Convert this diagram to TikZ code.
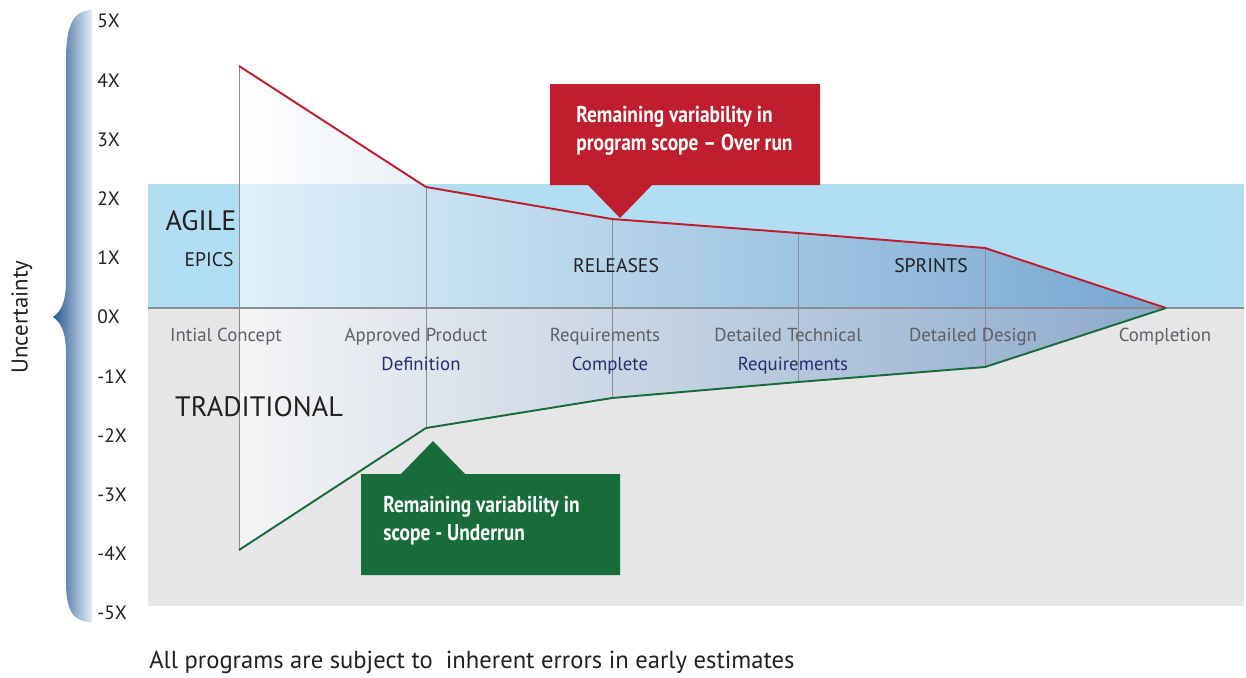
\documentclass[tikz,border=0pt]{standalone}
\usepackage{fontspec}
\setmainfont{PT Sans}
\usetikzlibrary{positioning}
\definecolor{agileblue}{RGB}{177,222,243}
\definecolor{tradgray}{RGB}{230,230,232}
\definecolor{conegray}{RGB}{140,140,145}
\definecolor{overred}{RGB}{190,30,45}
\definecolor{undergreen}{RGB}{24,108,58}
\definecolor{stagegray}{RGB}{95,95,100}
\definecolor{stagenavy}{RGB}{40,45,110}
\definecolor{conesteel}{RGB}{80,130,185}
\definecolor{darktext}{RGB}{35,31,32}
\definecolor{bracedark}{RGB}{35,85,145}
\definecolor{bracelight}{RGB}{228,237,248}

\tikzset{
  axislabel/.style={anchor=west, inner sep=0pt, font=\fontsize{11}{13}\selectfont, text=darktext},
  stage/.style={anchor=base, font=\fontsize{10.7}{12}\selectfont, text=stagegray},
  substage/.style={anchor=base, font=\fontsize{10.7}{12}\selectfont, text=stagenavy},
  phase/.style={anchor=base, font=\fontsize{11.2}{13}\selectfont, text=darktext},
  method/.style={anchor=base, font=\fontsize{16}{19}\selectfont, text=darktext},
  callouttext/.style={font=\bfseries\fontsize{13}{16}\selectfont, text=white, align=left, anchor=west, inner sep=0pt},
  conepart/.style={draw=conegray, line width=0.5pt}
}

\begin{document}
\begin{tikzpicture}[x=0.02cm, y=-0.02cm]
  \useasboundingbox (0,0) rectangle (1246,677);

  % bands
  \fill[agileblue] (148,184) rectangle (1244,308);
  \fill[tradgray] (148,308) rectangle (1244,606);

  % cone corners
  \foreach \i/\x/\yt/\yb in {0/239/66/550, 1/426/187/428, 2/612/219/398, 3/798/233/382, 4/985/248/367}
  {
    \coordinate (t\i) at (\x,\yt);
    \coordinate (b\i) at (\x,\yb);
  }
  \coordinate (tip) at (1166,308);

  \shade[left color=white, right color=conesteel, fill opacity=0.6]
    (t0) -- (t1) -- (t2) -- (t3) -- (t4) -- (tip) -- (b4) -- (b3) -- (b2) -- (b1) -- (b0) -- cycle;
  \foreach \i in {0,...,4}
  {
    \draw[conepart] (t\i) -- (b\i);
  }
  \draw[conegray, line width=1.1pt] (148,308) -- (1244,308);
  \draw[overred, line width=1.1pt] (t0) -- (t1) -- (t2) -- (t3) -- (t4) -- (tip);
  \draw[undergreen, line width=1.1pt] (b0) -- (b1) -- (b2) -- (b3) -- (b4) -- (tip);

  % brace and axis
  \shade[left color=bracedark, right color=bracelight]
    (92,10) .. controls (74,10) and (66,24) .. (66,60) -- (66,280)
    .. controls (66,304) and (60,312) .. (53,317)
    .. controls (60,322) and (66,330) .. (66,354) -- (66,582)
    .. controls (66,612) and (74,622) .. (92,622) -- cycle;
  \foreach \v in {5,...,-5}
  {
    \node[axislabel] (ax\v) at (97,317-59.2*\v) {\v X};
  }
  \node[rotate=90, font=\fontsize{13}{15}\selectfont, text=darktext] (uncert) at (22,317) {Uncertainty};

  % callouts
  \fill[overred] (550,84) -- (820,84) -- (820,185) -- (652,185) -- (620,218) -- (588,185) -- (550,185) -- cycle;
  \node[callouttext] (overtext) at (576,131) {\scalebox{.85}[1]{Remaining variability in}\\\scalebox{.85}[1]{program scope -- Over run}};
  \fill[undergreen] (361,474) -- (401,474) -- (433,441) -- (465,474) -- (620,474) -- (620,575) -- (361,575) -- cycle;
  \node[callouttext] (undertext) at (383,521) {\scalebox{.85}[1]{Remaining variability in}\\\scalebox{.85}[1]{scope - Underrun}};

  % labels
  \node[method] (agile) at (201,230) {AGILE};
  \node[phase] (epics) at (209,266) {EPICS};
  \node[phase] (releases) at (616,272) {RELEASES};
  \node[phase] (sprints) at (931,272) {SPRINTS};
  \node[method] (trad) at (259,416) {TRADITIONAL};

  \node[stage] (concept) at (226,341) {Intial Concept};
  \node[stage] (approved) at (416,341) {Approved Product};
  \node[substage] (definition) at (421,370) {Definition};
  \node[stage] (reqs) at (605,341) {Requirements};
  \node[substage] (complete) at (610,370) {Complete};
  \node[stage] (technical) at (788,341) {Detailed Technical};
  \node[substage] (techreqs) at (793,370) {Requirements};
  \node[stage] (design) at (973,341) {Detailed Design};
  \node[stage] (completion) at (1165,341) {Completion};

  \node[anchor=west, inner sep=0pt, font=\fontsize{14}{16}\selectfont, text=darktext] (note) at (149,662)
    {All programs are subject to\ \ inherent errors in early estimates};
\end{tikzpicture}
\end{document}
